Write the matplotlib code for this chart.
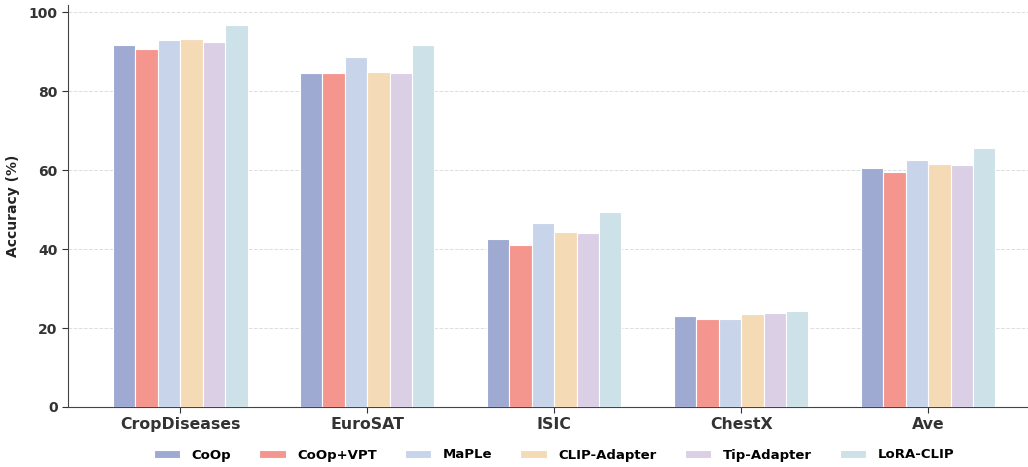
import matplotlib
matplotlib.use('Agg')
import matplotlib.pyplot as plt
import numpy as np

# ---- Data ----
datasets = ['CropDiseases', 'EuroSAT', 'ISIC', 'ChestX', 'Ave']
methods = ['CoOp', 'CoOp+VPT', 'MaPLe', 'CLIP-Adapter', 'Tip-Adapter', 'LoRA-CLIP']
coop        = [91.6, 84.5, 42.5, 23.0, 60.4]
coop_vpt    = [90.6, 84.6, 40.9, 22.3, 59.6]
maple       = [92.9, 88.7, 46.6, 22.2, 62.6]
clip_adapt  = [93.1, 84.9, 44.3, 23.5, 61.5]
tip_adapt   = [92.5, 84.5, 44.1, 23.7, 61.2]
lora_clip   = [96.7, 91.6, 49.4, 24.3, 65.6]
series = [coop, coop_vpt, maple, clip_adapt, tip_adapt, lora_clip]

colors = ['#9FAAD2', '#F4968E', '#C8D4EA', '#F5DAB6', '#DBCFE5', '#CDE1E8']

plt.rcParams['font.family'] = 'DejaVu Sans'
plt.rcParams['font.weight'] = 'bold'

fig = plt.figure(figsize=(10.28, 4.67), dpi=100)
ax = fig.add_axes([68 / 1028, 60 / 467, 1 - 68 / 1028, (407 - 5) / 467])

x = np.arange(len(datasets))
width = 0.12
for i, (vals, name, c) in enumerate(zip(series, methods, colors)):
    ax.bar(x + (i - 2.5) * width, vals, width, color=c, edgecolor='white',
           linewidth=0.8, label=name, zorder=3)

ax.set_xlim(-0.6, 4.534)
ax.set_ylim(0, 101.8)
ax.set_yticks([0, 20, 40, 60, 80, 100])
ax.set_xticks(x)
ax.set_xticklabels(datasets, fontsize=11.3, fontweight='bold', color='#222222')
ax.tick_params(axis='y', labelsize=10, length=4, width=0.8, colors='#333333')
ax.tick_params(axis='x', length=4, width=0.8, colors='#333333', pad=3)
for lbl in ax.get_yticklabels():
    lbl.set_fontweight('bold')
ax.set_ylabel('Accuracy (%)', fontsize=10, fontweight='bold', color='#222222',
              labelpad=6)
ax.yaxis.grid(True, linestyle='--', color='#DDDDDD', linewidth=0.7, zorder=0)
ax.spines['top'].set_visible(False)
ax.spines['right'].set_visible(False)
ax.spines['left'].set_color('#444444')
ax.spines['bottom'].set_color('#444444')

fig.legend(loc='center', bbox_to_anchor=(554 / 1028, 1 - 455 / 467), ncol=6,
           frameon=False, handlelength=2.0, handleheight=0.6,
           handletextpad=0.9, columnspacing=2.1,
           prop={'weight': 'bold', 'size': 9.5})

fig.savefig('out.png', dpi=100, facecolor='white')
